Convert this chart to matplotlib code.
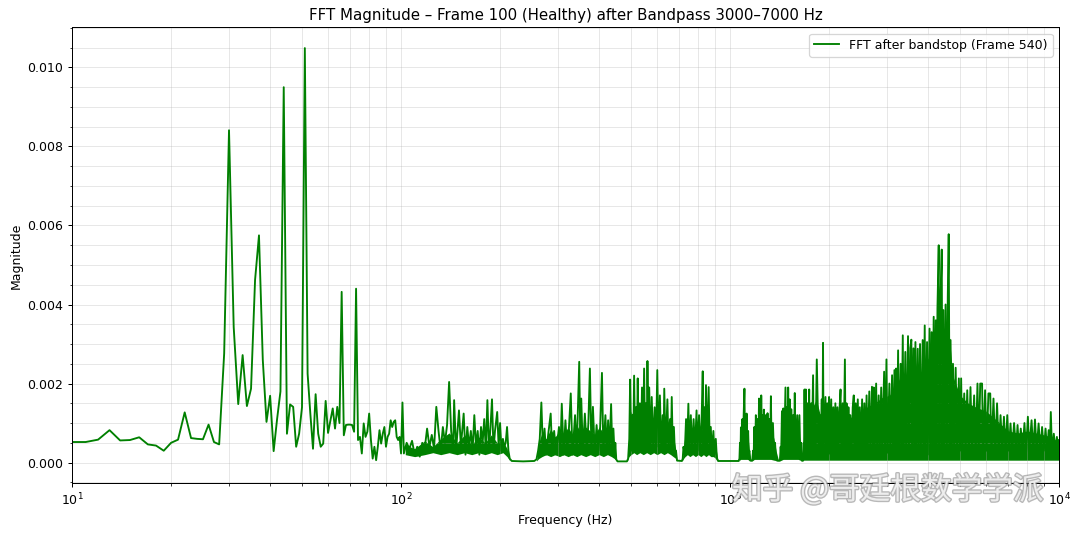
import numpy as np
import matplotlib
matplotlib.use("Agg")
import matplotlib.pyplot as plt
import matplotlib.patheffects as pe

# 10-100 Hz: one value per 1 Hz bin
low_freq = list(range(10, 101))
low_mag = [
    0.00052, 0.00052, 0.00058, 0.00082, 0.00056, 0.00057, 0.00064, 0.00046, 0.00043, 0.00030,
    0.00050, 0.00058, 0.00127, 0.00062, 0.00060, 0.00059, 0.00096, 0.00052, 0.00046, 0.00276,
    0.00841, 0.00343, 0.00148, 0.00272, 0.00143, 0.00187, 0.00462, 0.00575, 0.00260, 0.00103,
    0.00169, 0.00029, 0.00110, 0.00180, 0.00950, 0.00073, 0.00147, 0.00141, 0.00040, 0.00073,
    0.00140, 0.01049, 0.00225, 0.00124, 0.00035, 0.00173, 0.00073, 0.00040, 0.00048, 0.00156,
    0.00075, 0.00107, 0.00137, 0.00086, 0.00141, 0.00100, 0.00432, 0.00069, 0.00095, 0.00096,
    0.00096, 0.00095, 0.00078, 0.00440, 0.00057, 0.00065, 0.00023, 0.00099, 0.00065, 0.00078,
    0.00124, 0.00057, 0.00010, 0.00040, 0.00006, 0.00040, 0.00082, 0.00048, 0.00073, 0.00090,
    0.00040, 0.00065, 0.00073, 0.00107, 0.00090, 0.00103, 0.00107, 0.00065, 0.00057, 0.00065,
    0.00023,
]

# above 100 Hz: spikes and troughs (Hz, magnitude)
hf_freq = [
    101, 102, 104, 106, 108, 110, 112, 114, 116, 118, 120, 122, 124, 126, 128, 130, 132, 134, 136, 138,
    140, 142, 144, 145, 147, 149, 150, 152, 155, 157, 159, 161, 163, 165, 167, 169, 171, 173, 175, 177,
    179, 181, 183, 185, 187, 189, 191, 193, 196, 198, 200, 202, 204, 206, 208, 210, 212, 214, 217, 235,
    254, 258, 261,
    264, 267, 270, 273, 276, 280, 285, 288, 292, 296, 302, 305, 308, 312, 316, 320, 324, 328, 332, 338,
    342, 348, 351, 353, 357, 362, 367, 371, 375, 379, 383, 388, 393, 398, 403, 408, 412, 418, 422, 426,
    430, 435, 439, 442, 446, 448, 451, 455, 486,
    490, 494, 497, 501, 505, 508, 511, 515, 518, 521, 524, 528, 532, 536, 540, 544, 548, 552, 555, 558,
    561, 565, 568, 573, 578, 584, 590, 595, 601, 606, 612, 618, 624, 628, 631, 637, 645, 650, 657, 661,
    665, 670, 675, 680, 685, 690, 714,
    718, 722, 728, 735, 740, 747, 752, 760, 766, 775, 782, 791, 797, 805, 812, 819, 826, 830, 835, 840,
    845, 852, 861, 868, 874, 880, 890, 897, 905, 912, 920, 1062,
    1068, 1072, 1076, 1079, 1084, 1090, 1095, 1100, 1106, 1111, 1115, 1119, 1123, 1128, 1135, 1140, 1145, 1152, 1168,
    1175, 1180, 1185, 1192, 1198, 1205, 1212, 1218, 1225, 1230, 1235, 1240, 1244, 1250, 1255, 1261, 1267, 1274,
    1285, 1292, 1300, 1308, 1315, 1323, 1331, 1338, 1350, 1360, 1370, 1380, 1390, 1418,
    1425, 1430, 1438, 1444, 1452, 1460, 1474, 1480, 1490, 1497, 1502, 1508, 1518, 1525, 1535, 1545, 1555, 1563,
    1573, 1582, 1600, 1610, 1625, 1635, 1645, 1652, 1668,
    1675, 1679, 1684, 1690, 1700, 1706, 1720, 1728, 1740, 1748, 1765, 1772, 1788, 1796, 1810, 1818, 1835, 1860,
    1875, 1885, 1900, 1908, 1917, 1925, 1950, 1960, 1975, 1990, 2000, 2012, 2030, 2045, 2060, 2075, 2090, 2105,
    2120, 2135, 2150, 2167, 2180, 2200, 2215, 2234, 2245, 2260, 2275, 2290, 2305, 2320, 2340, 2360, 2377, 2390,
    2410, 2425, 2445, 2460, 2480, 2500, 2520, 2540, 2560, 2580, 2600, 2620, 2650, 2670, 2700, 2720, 2734, 2750,
    2780, 2800, 2830, 2850, 2880, 2900, 2940, 2960, 2988, 3010, 3050, 3070, 3108, 3130, 3160, 3180, 3197, 3215,
    3242, 3260, 3300, 3320, 3350, 3370, 3410, 3430, 3475, 3495, 3530, 3557, 3575, 3610, 3630, 3660, 3680, 3720,
    3740, 3780, 3800, 3850, 3870, 3906, 3925, 3970, 3990, 4040, 4060, 4100, 4120, 4159, 4180, 4220, 4240, 4270,
    4308, 4330, 4360, 4400, 4420, 4450, 4480, 4520, 4560, 4590, 4620, 4650, 4680, 4720, 4760, 4800, 4850, 4900,
    4960, 5000, 5040, 5080, 5150, 5200, 5260, 5320, 5380, 5440, 5520, 5580, 5650, 5700, 5760, 5835, 5880, 5960,
    6020, 6100, 6178, 6230, 6320, 6400, 6480, 6560, 6640, 6720, 6800, 6880, 6960, 7040, 7120, 7200, 7300, 7400,
    7480, 7560, 7650, 7750, 7850, 7940, 8040, 8120, 8250, 8350, 8450, 8550, 8667, 8780, 8880, 8990, 9100, 9200,
    9300, 9380, 9440, 9520, 9640, 9750, 9850, 9950, 10000,
]
hf_mag = [
    0.00152, 0.00023, 0.00050, 0.00035, 0.00055, 0.00020, 0.00040, 0.00015, 0.00050, 0.00035,
    0.00086, 0.00040, 0.00070, 0.00035, 0.00141, 0.00080, 0.00030, 0.00090, 0.00050, 0.00095,
    0.00204, 0.00080, 0.00030, 0.00158, 0.00030, 0.00100, 0.00132, 0.00040, 0.00124, 0.00020,
    0.00090, 0.00040, 0.00080, 0.00030, 0.00120, 0.00040, 0.00080, 0.00020, 0.00090, 0.00050,
    0.00110, 0.00030, 0.00158, 0.00030, 0.00090, 0.00160, 0.00030, 0.00080, 0.00128, 0.00040,
    0.00100, 0.00030, 0.00060, 0.00040, 0.00050, 0.00090, 0.00030, 0.00010, 0.00004, 0.00003,
    0.00004, 0.00008, 0.00030,
    0.00060, 0.00152, 0.00030, 0.00086, 0.00020, 0.00070, 0.00124, 0.00025, 0.00080, 0.00020,
    0.00090, 0.00030, 0.00149, 0.00020, 0.00107, 0.00030, 0.00090, 0.00175, 0.00020, 0.00120,
    0.00030, 0.00255, 0.00030, 0.00162, 0.00025, 0.00124, 0.00030, 0.00100, 0.00238, 0.00030,
    0.00141, 0.00025, 0.00095, 0.00030, 0.00090, 0.00227, 0.00030, 0.00120, 0.00025, 0.00107,
    0.00030, 0.00148, 0.00020, 0.00086, 0.00015, 0.00050, 0.00008, 0.00003, 0.00003,
    0.00010, 0.00060, 0.00210, 0.00030, 0.00120, 0.00040, 0.00220, 0.00030, 0.00140, 0.00040,
    0.00213, 0.00030, 0.00150, 0.00040, 0.00190, 0.00030, 0.00238, 0.00040, 0.00150, 0.00030,
    0.00257, 0.00040, 0.00190, 0.00030, 0.00166, 0.00040, 0.00140, 0.00030, 0.00234, 0.00040,
    0.00170, 0.00030, 0.00120, 0.00040, 0.00187, 0.00030, 0.00160, 0.00040, 0.00110, 0.00030,
    0.00166, 0.00030, 0.00090, 0.00020, 0.00030, 0.00005, 0.00004,
    0.00010, 0.00040, 0.00020, 0.00110, 0.00030, 0.00149, 0.00030, 0.00120, 0.00030, 0.00110,
    0.00030, 0.00132, 0.00030, 0.00120, 0.00030, 0.00100, 0.00231, 0.00030, 0.00140, 0.00030,
    0.00196, 0.00030, 0.00191, 0.00030, 0.00090, 0.00025, 0.00080, 0.00020, 0.00060, 0.00010,
    0.00004, 0.00004,
    0.00010, 0.00050, 0.00020, 0.00089, 0.00020, 0.00110, 0.00025, 0.00120, 0.00187, 0.00020,
    0.00100, 0.00025, 0.00124, 0.00020, 0.00080, 0.00020, 0.00030, 0.00005, 0.00005,
    0.00030, 0.00020, 0.00090, 0.00025, 0.00120, 0.00020, 0.00110, 0.00020, 0.00162, 0.00025,
    0.00120, 0.00020, 0.00170, 0.00025, 0.00120, 0.00020, 0.00134, 0.00025,
    0.00120, 0.00020, 0.00125, 0.00025, 0.00110, 0.00020, 0.00168, 0.00025, 0.00100, 0.00020,
    0.00050, 0.00010, 0.00005, 0.00005,
    0.00040, 0.00020, 0.00130, 0.00025, 0.00137, 0.00020, 0.00190, 0.00025, 0.00140, 0.00020,
    0.00190, 0.00025, 0.00160, 0.00020, 0.00135, 0.00025, 0.00120, 0.00020,
    0.00176, 0.00025, 0.00120, 0.00020, 0.00120, 0.00020, 0.00050, 0.00005, 0.00005,
    0.00050, 0.00020, 0.00185, 0.00025, 0.00185, 0.00020, 0.00150, 0.00025, 0.00185, 0.00020,
    0.00150, 0.00025, 0.00221, 0.00020, 0.00140, 0.00025, 0.00261, 0.00025,
    0.00120, 0.00025, 0.00160, 0.00020, 0.00303, 0.00020, 0.00166, 0.00025, 0.00150, 0.00020,
    0.00166, 0.00025, 0.00160, 0.00020, 0.00140, 0.00025, 0.00150, 0.00020,
    0.00140, 0.00025, 0.00130, 0.00185, 0.00020, 0.00150, 0.00025, 0.00261, 0.00020, 0.00150,
    0.00025, 0.00140, 0.00020, 0.00120, 0.00025, 0.00140, 0.00170, 0.00025,
    0.00150, 0.00020, 0.00160, 0.00025, 0.00140, 0.00020, 0.00160, 0.00025, 0.00150, 0.00020,
    0.00170, 0.00025, 0.00180, 0.00020, 0.00192, 0.00025, 0.00190, 0.00020,
    0.00200, 0.00025, 0.00170, 0.00020, 0.00190, 0.00025, 0.00230, 0.00020, 0.00261, 0.00025,
    0.00200, 0.00020, 0.00221, 0.00025, 0.00234, 0.00020, 0.00238, 0.00025,
    0.00284, 0.00020, 0.00250, 0.00025, 0.00322, 0.00020, 0.00280, 0.00025, 0.00320, 0.00020,
    0.00290, 0.00311, 0.00025, 0.00289, 0.00020, 0.00305, 0.00025, 0.00288,
    0.00020, 0.00300, 0.00025, 0.00310, 0.00020, 0.00347, 0.00025, 0.00305, 0.00020, 0.00339,
    0.00025, 0.00330, 0.00020, 0.00369, 0.00025, 0.00360, 0.00020, 0.00390,
    0.00550, 0.00030, 0.00400, 0.00539, 0.00030, 0.00386, 0.00030, 0.00400, 0.00030, 0.00420,
    0.00578, 0.00030, 0.00310, 0.00030, 0.00250, 0.00030, 0.00240, 0.00025,
    0.00213, 0.00030, 0.00213, 0.00025, 0.00175, 0.00030, 0.00183, 0.00025, 0.00191, 0.00030,
    0.00170, 0.00025, 0.00200, 0.00030, 0.00200, 0.00200, 0.00025, 0.00183,
    0.00030, 0.00175, 0.00175, 0.00025, 0.00162, 0.00030, 0.00150, 0.00025, 0.00120, 0.00030,
    0.00116, 0.00025, 0.00120, 0.00030, 0.00099, 0.00025, 0.00100, 0.00030,
    0.00095, 0.00025, 0.00086, 0.00030, 0.00100, 0.00025, 0.00116, 0.00030, 0.00107, 0.00025,
    0.00109, 0.00030, 0.00099, 0.00025, 0.00090, 0.00030, 0.00086, 0.00025,
    0.00082, 0.00030, 0.00128, 0.00025, 0.00073, 0.00030, 0.00065, 0.00030, 0.00057,
]

# dense core of the spectrum (Hz, lower edge, upper edge), one line per band
body_freq = [
    103, 110, 118, 125, 132, 140, 148, 156, 164, 172, 180, 188, 196, 204, 210, 214,
    258, 262, 268, 276, 285, 294, 303, 312, 322, 332, 342, 352, 364, 376, 388, 400, 412, 424, 436, 445, 452,
    488, 493, 500, 510, 520, 532, 545, 558, 572, 586, 600, 615, 630, 645, 660, 672, 685, 690,
    716, 722, 730, 742, 755, 770, 785, 800, 815, 830, 845, 860, 875, 890, 905, 920,
    1066, 1075, 1085, 1100, 1115, 1130, 1148, 1160, 1172, 1185, 1210, 1240, 1270, 1300, 1330, 1360, 1380,
    1405, 1425, 1450, 1490, 1530, 1570, 1610, 1635, 1655, 1675, 1720, 1780, 1830, 1880, 1930, 2000, 2100,
    2200, 2300, 2400, 2500, 2600, 2750, 2900, 3050, 3200, 3350, 3500, 3650, 3800, 3950, 4100, 4250, 4350,
    4500, 4620, 4750, 5000, 5300, 5600, 6000, 6500, 7000, 7500, 8000, 8500, 9000, 9500, 10000,
]
body_low = [
    0.00020, 0.00015, 0.00020, 0.00025, 0.00020, 0.00025, 0.00020, 0.00025, 0.00020, 0.00025, 0.00020, 0.00025, 0.00020, 0.00025, 0.00015, 0.00005,
    0.00004, 0.00010, 0.00015, 0.00020, 0.00015, 0.00020, 0.00015, 0.00020, 0.00015, 0.00020, 0.00015, 0.00020, 0.00015, 0.00020, 0.00015, 0.00020, 0.00015, 0.00020, 0.00015, 0.00010, 0.00004,
    0.00004, 0.00015, 0.00020, 0.00025, 0.00020, 0.00025, 0.00020, 0.00025, 0.00020, 0.00025, 0.00020, 0.00025, 0.00020, 0.00025, 0.00020, 0.00015, 0.00010, 0.00004,
    0.00004, 0.00010, 0.00015, 0.00020, 0.00015, 0.00020, 0.00015, 0.00020, 0.00015, 0.00020, 0.00015, 0.00020, 0.00015, 0.00015, 0.00010, 0.00004,
    0.00004, 0.00008, 0.00008, 0.00008, 0.00008, 0.00008, 0.00005, 0.00004, 0.00005, 0.00008, 0.00008, 0.00008, 0.00008, 0.00008, 0.00008, 0.00006, 0.00005,
    0.00004, 0.00005, 0.00008, 0.00008, 0.00008, 0.00008, 0.00008, 0.00006, 0.00004, 0.00006, 0.00006, 0.00006, 0.00006, 0.00006, 0.00006, 0.00006, 0.00006,
    0.00006, 0.00006, 0.00006, 0.00006, 0.00006, 0.00006, 0.00006, 0.00006, 0.00006, 0.00006, 0.00006, 0.00006, 0.00006, 0.00006, 0.00006, 0.00006, 0.00006,
    0.00006, 0.00006, 0.00006, 0.00006, 0.00006, 0.00006, 0.00006, 0.00006, 0.00006, 0.00006, 0.00006, 0.00006, 0.00006, 0.00006, 0.00006,
]
body_high = [
    0.00045, 0.00035, 0.00055, 0.00040, 0.00060, 0.00075, 0.00050, 0.00070, 0.00045, 0.00065, 0.00050, 0.00070, 0.00050, 0.00055, 0.00035, 0.00005,
    0.00004, 0.00050, 0.00075, 0.00060, 0.00085, 0.00065, 0.00080, 0.00070, 0.00090, 0.00070, 0.00095, 0.00075, 0.00090, 0.00080, 0.00070, 0.00090, 0.00075, 0.00085, 0.00065, 0.00040, 0.00004,
    0.00004, 0.00080, 0.00130, 0.00110, 0.00140, 0.00120, 0.00150, 0.00130, 0.00120, 0.00100, 0.00130, 0.00100, 0.00110, 0.00090, 0.00100, 0.00070, 0.00030, 0.00004,
    0.00004, 0.00040, 0.00070, 0.00085, 0.00070, 0.00080, 0.00070, 0.00085, 0.00075, 0.00100, 0.00085, 0.00090, 0.00060, 0.00055, 0.00040, 0.00004,
    0.00004, 0.00050, 0.00085, 0.00095, 0.00075, 0.00080, 0.00020, 0.00004, 0.00030, 0.00080, 0.00100, 0.00090, 0.00105, 0.00095, 0.00090, 0.00060, 0.00030,
    0.00004, 0.00040, 0.00100, 0.00115, 0.00100, 0.00120, 0.00090, 0.00050, 0.00004, 0.00080, 0.00120, 0.00140, 0.00160, 0.00120, 0.00140, 0.00110, 0.00120,
    0.00130, 0.00110, 0.00125, 0.00120, 0.00140, 0.00150, 0.00165, 0.00170, 0.00195, 0.00230, 0.00210, 0.00235, 0.00225, 0.00260, 0.00270, 0.00300, 0.00340,
    0.00330, 0.00340, 0.00220, 0.00170, 0.00150, 0.00140, 0.00130, 0.00105, 0.00080, 0.00075, 0.00080, 0.00075, 0.00070, 0.00065, 0.00050,
]

freq = low_freq + hf_freq
mag = low_mag + hf_mag

fig = plt.figure(figsize=(12, 536 / 90), dpi=90)
plt.subplots_adjust(left=0.0667, right=0.9806, top=0.949, bottom=0.0983)

plt.fill_between(body_freq, body_low, body_high, color='green', linewidth=0)
plt.plot(freq, mag, color='green', label='FFT after bandstop (Frame 540)')

plt.xscale('log')
plt.xlim(10, 10000)
plt.ylim(-0.000525, 0.011015)
plt.title('FFT Magnitude – Frame 100 (Healthy) after Bandpass 3000–7000 Hz')
plt.xlabel('Frequency (Hz)')
plt.ylabel('Magnitude')
plt.minorticks_on()
plt.grid(True, which='both', alpha=0.3)
plt.legend(loc='upper right')

# site watermark in the lower right corner
fig.text(0.822, 0.086, '知乎 @哥廷根数学学派', fontsize=24.5, color='#f4f4f4', alpha=0.9,
         family=['Noto Sans CJK SC', 'DejaVu Sans'], ha='center', va='center',
         path_effects=[pe.withStroke(linewidth=2.2, foreground='#8a8a8a', alpha=0.6)])

plt.savefig('out.png', dpi=90)
